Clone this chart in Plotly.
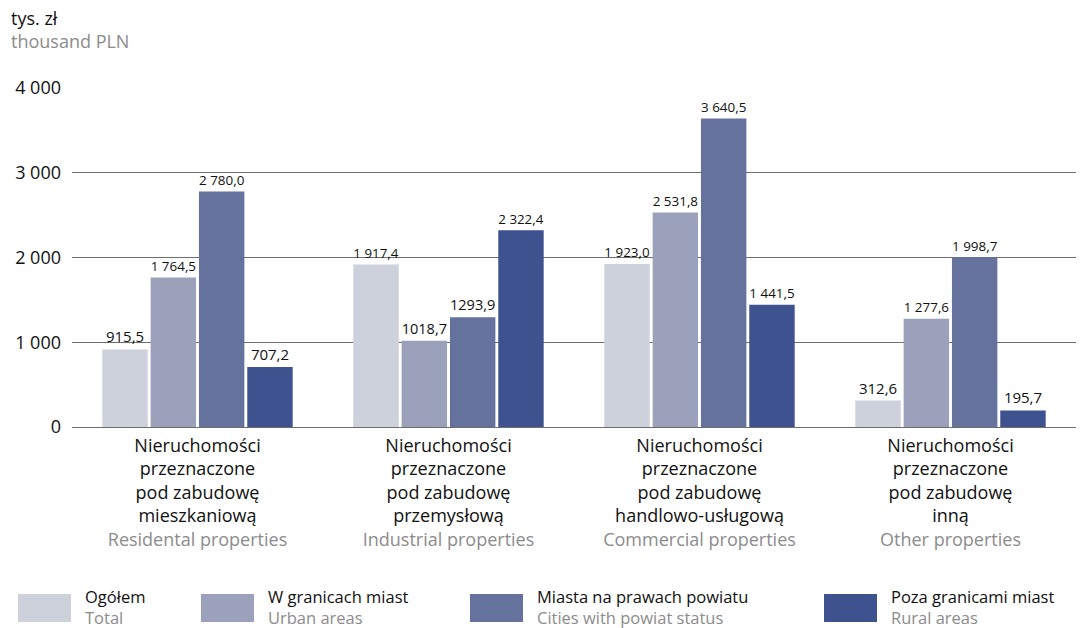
import plotly.graph_objects as go

# categories (x axis)
cat_pl = [
    "Nieruchomości<br>przeznaczone<br>pod zabudowę<br>mieszkaniową",
    "Nieruchomości<br>przeznaczone<br>pod zabudowę<br>przemysłową",
    "Nieruchomości<br>przeznaczone<br>pod zabudowę<br>handlowo-usługową",
    "Nieruchomości<br>przeznaczone<br>pod zabudowę<br>inną",
]
cat_en = ["Residental properties", "Industrial properties",
          "Commercial properties", "Other properties"]

# series
series_pl = ["Ogółem", "W granicach miast", "Miasta na prawach powiatu", "Poza granicami miast"]
series_en = ["Total", "Urban areas", "Cities with powiat status", "Rural areas"]
colors = ["#ccd1dc", "#9ca1bb", "#65729d", "#3d528f"]

total = [915.5, 1917.4, 1923.0, 312.6]
urban = [1764.5, 1018.7, 2531.8, 1277.6]
cities = [2780.0, 1293.9, 3640.5, 1998.7]
rural = [707.2, 2322.4, 1441.5, 195.7]

total_lbl = ["915,5", "1 917,4", "1 923,0", "312,6"]
urban_lbl = ["1 764,5", "1018,7", "2 531,8", "1 277,6"]
cities_lbl = ["2 780,0", "1293,9", "3 640,5", "1 998,7"]
rural_lbl = ["707,2", "2 322,4", "1 441,5", "195,7"]

y_ticks = [0, 1000, 2000, 3000, 4000]
y_ticktext = ["0", "1 000", "2 000", "3 000", "4 000"]

FONT = "Open Sans"
GREY = "#8c8c8c"
FS = 18

ticktext = [p + "<br><span style='color:%s'>%s</span>" % (GREY, e) for p, e in zip(cat_pl, cat_en)]

fig = go.Figure()
for vals, lbls, col, name in zip([total, urban, cities, rural],
                                 [total_lbl, urban_lbl, cities_lbl, rural_lbl],
                                 colors, series_pl):
    fig.add_trace(go.Bar(
        x=list(range(4)), y=vals, name=name,
        marker=dict(color=col, line=dict(width=0)),
        text=lbls, textposition="outside", cliponaxis=False,
        textfont=dict(family=FONT, size=15, color="#111111"),
        hoverinfo="skip",
    ))

L, T, PW, PH = 72, 88, 1004, 339

fig.update_layout(
    width=1081, height=628,
    margin=dict(l=L, r=1081 - L - PW, t=T, b=628 - T - PH, autoexpand=False),
    paper_bgcolor="white", plot_bgcolor="white",
    barmode="group", bargap=0.23, bargroupgap=0.06,
    showlegend=False,
    font=dict(family=FONT, size=FS, color="#111111"),
    xaxis=dict(tickvals=list(range(4)), ticktext=ticktext, showgrid=False,
               ticks="", tickfont=dict(size=FS), range=[-0.5, 3.5],
               ticklabelstandoff=6, automargin=False),
    yaxis=dict(range=[0, 4000], tickvals=y_ticks, ticktext=y_ticktext,
               showgrid=True, gridcolor="#6e6e6e", gridwidth=1,
               zeroline=True, zerolinecolor="#6e6e6e", zerolinewidth=1,
               ticks="", ticklabelstandoff=10, tickfont=dict(size=FS),
               automargin=False),
)


def px(x):
    return (x - L) / PW


def py(y):
    return (T + PH - y) / PH


# axis title, top left
fig.add_annotation(x=px(10), y=py(29), xref="paper", yref="paper",
                   text="tys. zł<br><span style='color:%s'>thousand PLN</span>" % GREY,
                   showarrow=False, xanchor="left", yanchor="middle", align="left",
                   borderpad=0, font=dict(size=FS, color="#111111"))

# custom legend with big swatches
swatch_x = [18, 201, 470, 824]
for i in range(4):
    x0 = swatch_x[i]
    fig.add_shape(type="rect", xref="paper", yref="paper",
                  x0=px(x0), x1=px(x0 + 53), y0=py(622), y1=py(594),
                  fillcolor=colors[i], line=dict(width=0))
    fig.add_annotation(xref="paper", yref="paper", x=px(x0 + 66), y=py(607),
                       text="%s<br><span style='color:%s'>%s</span>" % (series_pl[i], GREY, series_en[i]),
                       showarrow=False, xanchor="left", yanchor="middle", align="left",
                       borderpad=0, font=dict(size=16.5, color="#111111"))

fig.write_html("out.html", config={"displayModeBar": False},
               post_script="document.body.style.margin='0';")
